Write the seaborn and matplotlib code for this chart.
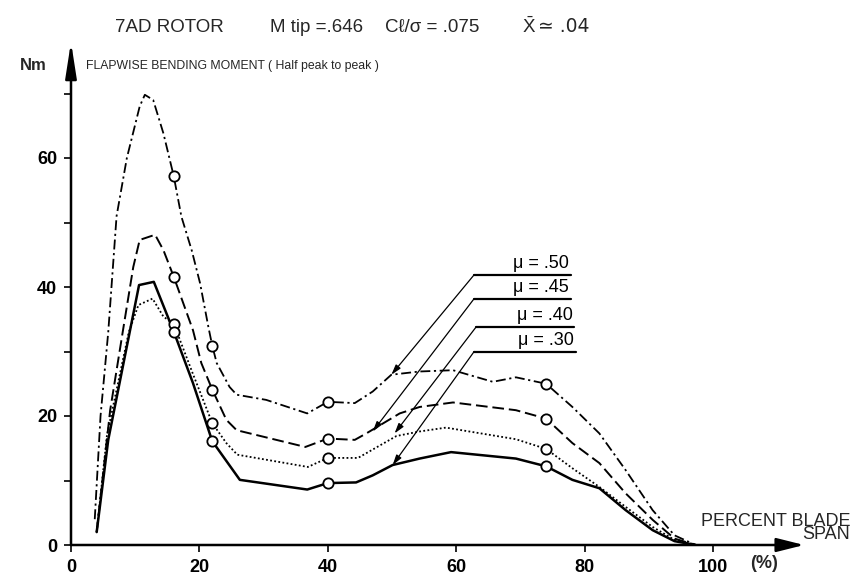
import matplotlib
matplotlib.use("Agg")
import matplotlib.pyplot as plt
import pandas as pd
import seaborn as sns

# ---------------- data ----------------
span_50 = [3.7, 4.6, 5.8, 7.1, 8.7, 10.7, 11.5, 12.8, 14.4, 16, 17.2, 18.8, 20.1, 21.4, 22,
           22.7, 24.7, 25.8, 30.4, 36.8, 40, 44.2, 47, 49.9, 54.3, 59.5, 65.7, 69.3, 74,
           78.1, 82.3, 86.4, 90.6, 94, 97.3]
mom_50 = [4, 20, 33, 51, 60, 68, 69.8, 69.0, 63.8, 57.2, 50.9, 45.7, 40.6, 33.8, 30.9,
          28.2, 24.5, 23.3, 22.5, 20.4, 22.2, 22.0, 23.8, 26.4, 26.9, 27.1, 25.3, 26.0, 25.0,
          21.4, 17.3, 11.6, 5.4, 1.5, 0]

span_45 = [4, 6.1, 8.1, 9.7, 10.7, 13.1, 14.4, 16, 19, 20.3, 22, 24.2, 25.8, 36.5, 40,
           44.2, 46, 51.2, 54.3, 59.5, 69.3, 74, 78.1, 82.3, 86.4, 90.6, 94, 97.3]
mom_45 = [2, 20.9, 33.3, 43.1, 47.3, 48.1, 45.7, 41.6, 33.3, 28.2, 24.1, 19.4, 17.8, 15.2, 16.5,
          16.3, 17.3, 20.4, 21.4, 22.1, 20.9, 19.6, 15.8, 12.7, 8.0, 3.9, 1.0, 0]

span_40 = [4, 5.6, 9.0, 10.5, 12.7, 14.4, 16, 19, 22, 24.2, 25.9, 36.9, 40, 44.7, 50.7,
           54.3, 58.4, 69.3, 74, 78.1, 82.3, 86.4, 90.6, 94, 97.3]
mom_40 = [2, 17, 33, 37.2, 38.2, 35.4, 34.3, 26.5, 18.9, 15.8, 14.0, 12.1, 13.5, 13.5, 16.9,
          17.6, 18.2, 16.4, 14.9, 11.9, 9.0, 5.9, 2.8, 0.8, 0]

span_30 = [4, 5.8, 9.2, 10.6, 12.9, 16, 19, 22, 26.3, 36.8, 40, 44.4, 47, 50.1, 54.3,
           59.2, 69.3, 74, 78.1, 82.3, 86.4, 90.6, 94, 97.3]
mom_30 = [2, 16.3, 33.3, 40.3, 40.8, 33.1, 25.1, 16.1, 10.1, 8.6, 9.6, 9.7, 10.8, 12.4, 13.4,
          14.4, 13.4, 12.2, 10.1, 8.8, 5.4, 2.3, 0.6, 0]

# measured points (open circles)
pt_span = [16, 22, 40, 74]
pt_50 = [57.2, 30.9, 22.2, 25.0]
pt_45 = [41.6, 24.1, 16.5, 19.6]
pt_40 = [34.3, 18.9, 13.5, 14.9]
pt_30 = [33.1, 16.1, 9.6, 12.2]

mu_labels = ["\u03bc = .50", "\u03bc = .45", "\u03bc = .40", "\u03bc = .30"]
# leader lines: underline y, underline x start/end, pointed curve location
lead_y = [41.9, 38.2, 33.8, 30.0]
lead_x0 = [62.8, 62.8, 63.1, 62.8]
lead_x1 = [77.9, 77.9, 78.4, 78.6]
lead_tx = [49.9, 47.0, 50.4, 50.1]
lead_ty = [26.4, 17.6, 17.3, 12.4]

x_ticks = [0, 20, 40, 60, 80, 100]
y_ticks = [0, 20, 40, 60]
y_minor = [10, 30, 50, 70]

# ---------------- figure ----------------
sns.set_theme(style="white")
plt.rcParams["font.family"] = ["Liberation Sans", "DejaVu Sans"]
plt.rcParams["mathtext.fontset"] = "custom"
plt.rcParams["mathtext.rm"] = "Liberation Sans"
plt.rcParams["mathtext.it"] = "Liberation Sans:italic"

W, H = 855, 576
fig = plt.figure(figsize=(W / 100, H / 100), dpi=100)
fig.patch.set_facecolor("white")
ax = fig.add_axes([71 / W, 31 / H, 114 * 6.42 / W, 78 * 6.45 / H])
ax.set_facecolor("white")
ax.set_xlim(0, 114)
ax.set_ylim(0, 78)
for s in ax.spines.values():
    s.set_visible(False)

series = [
    (span_50, mom_50, pt_50, dict(linestyle=(0, (5.5, 2, 1.2, 2)), linewidth=1.3)),
    (span_45, mom_45, pt_45, dict(linestyle=(0, (6, 2.5)), linewidth=1.4)),
    (span_40, mom_40, pt_40, dict(linestyle=(0, (1, 1.3)), linewidth=1.3)),
    (span_30, mom_30, pt_30, dict(linestyle="-", linewidth=1.8)),
]
for xs, ys, pys, style in series:
    df = pd.DataFrame({"span": xs, "moment": ys})
    sns.lineplot(data=df, x="span", y="moment", ax=ax, color="black", sort=False,
                 estimator=None, zorder=3, **style)
    dp = pd.DataFrame({"span": pt_span, "moment": pys})
    sns.scatterplot(data=dp, x="span", y="moment", ax=ax, s=55, facecolor="white",
                    edgecolor="black", linewidth=1.3, zorder=5)

# leader lines and labels
for lab, ly, x0, x1, tx, ty in zip(mu_labels, lead_y, lead_x0, lead_x1, lead_tx, lead_ty):
    ax.plot([x0, x1], [ly, ly], color="black", lw=1.6, zorder=4)
    ax.annotate("", xy=(tx, ty), xytext=(x0, ly),
                arrowprops=dict(arrowstyle="-|>,head_length=0.5,head_width=0.15",
                                mutation_scale=12, color="black", lw=0.9,
                                shrinkA=0, shrinkB=0), zorder=4)
    ax.text(x1 - 0.3, ly + 0.4, lab, ha="right", va="bottom", fontsize=13,
            color="black")

# axes with arrows
ax.annotate("", xy=(114.2, 0), xytext=(0, 0), annotation_clip=False,
            arrowprops=dict(arrowstyle="-|>,head_length=1.4,head_width=0.35",
                            mutation_scale=12, color="black", lw=1.8,
                            shrinkA=0, shrinkB=0))
ax.annotate("", xy=(0, 78), xytext=(0, 0), annotation_clip=False,
            arrowprops=dict(arrowstyle="-|>,head_length=1.8,head_width=0.28",
                            mutation_scale=12, color="black", lw=1.8,
                            shrinkA=0, shrinkB=0))

tick_font = dict(family=["Liberation Sans Narrow", "Liberation Sans", "DejaVu Sans"],
                 weight="bold", size=13)
ax.set_xticks(x_ticks)
ax.set_xticklabels([str(v) for v in x_ticks], fontdict=tick_font)
ax.set_yticks(y_ticks)
ax.set_yticklabels([str(v) for v in y_ticks], fontdict=tick_font)
ax.set_yticks(y_minor, minor=True)
ax.tick_params(axis="both", which="both", direction="out", length=5, width=1.2,
               color="black", labelcolor="black", bottom=True, left=True)
ax.tick_params(axis="x", pad=5)
ax.tick_params(axis="y", pad=5)
ax.set_xlabel("")
ax.set_ylabel("")

# titles and annotations (figure pixel coordinates)
def ftext(px, py, s, **kw):
    fig.text(px / W, 1 - py / H, s, **kw)

ftext(115, 27, "7AD ROTOR", fontsize=13.5, va="center", ha="left")
ftext(270, 27, "M tip =.646", fontsize=13.5, va="center", ha="left")
ftext(385, 27, "C\u2113/\u03c3 = .075", fontsize=13.5, va="center", ha="left")
ftext(522, 27, r"$\bar{\mathrm{X}}$", fontsize=13.5, va="center", ha="left")
ftext(538, 27, "\u2243 .04", fontsize=13.5, va="center", ha="left",
      family=["DejaVu Sans", "Liberation Sans"])
ftext(20, 66, "Nm", fontsize=12, fontweight="bold", va="center", ha="left")
ftext(86, 66, "FLAPWISE BENDING MOMENT ( Half peak to peak )", fontsize=8.8,
      va="center", ha="left")
fig.text(850 / W, 1 - 528 / H, "PERCENT BLADE\nSPAN", fontsize=13, va="center",
         ha="right", multialignment="right", linespacing=0.75)
ftext(750, 564, "(%)", fontsize=13, fontweight="bold", va="center", ha="left")

fig.savefig("out.png", dpi=100, facecolor="white")
